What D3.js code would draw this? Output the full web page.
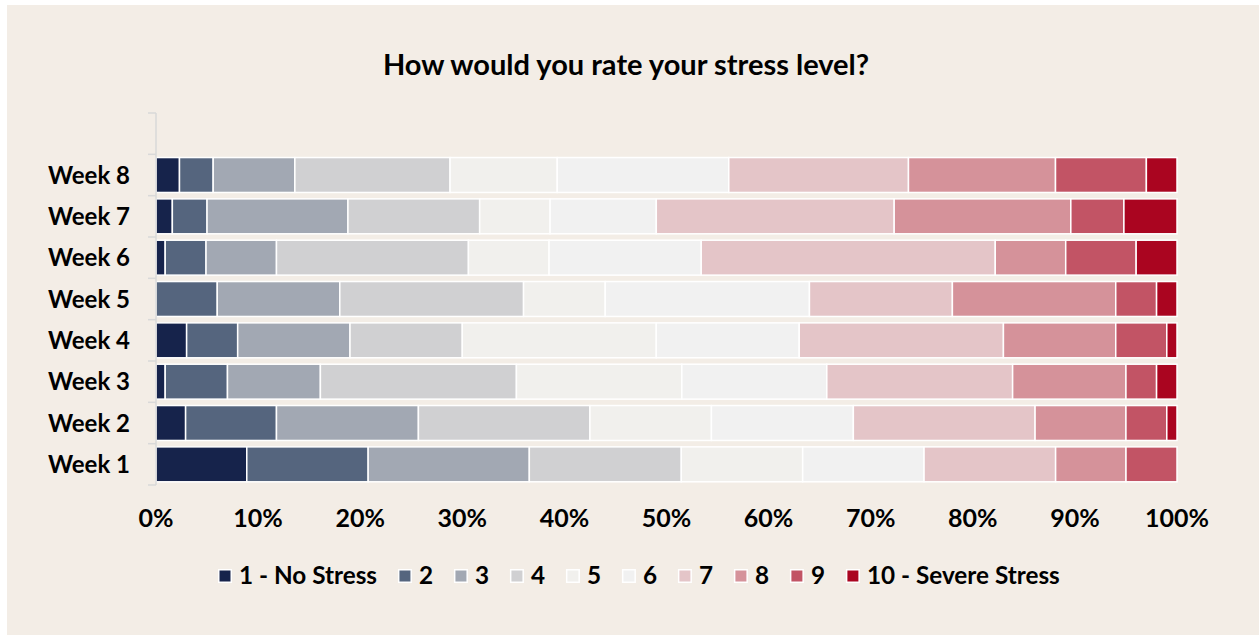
<!DOCTYPE html>
<html>
<head>
<meta charset="utf-8">
<script src="https://cdn.jsdelivr.net/npm/d3@7"></script>
<style>
  html, body { margin: 0; padding: 0; background: #ffffff; }
  svg { display: block; }
  text { font-family: Lato, "Open Sans", sans-serif; font-weight: 700; fill: #000; }
</style>
</head>
<body>
<svg id="chart" width="1259" height="635"></svg>
<script>
const title = "How would you rate your stress level?";
const weeks = ["Week 1", "Week 2", "Week 3", "Week 4", "Week 5", "Week 6", "Week 7", "Week 8"];
const ratings = ["1 - No Stress", "2", "3", "4", "5", "6", "7", "8", "9", "10 - Severe Stress"];
const colors = ["#16234b", "#55657e", "#a2a8b3", "#d0d0d2", "#f1f0ed", "#f1f1f1", "#e4c5c8", "#d5929a", "#c25465", "#aa0520"];
const tickValues = [0, 0.1, 0.2, 0.3, 0.4, 0.5, 0.6, 0.7, 0.8, 0.9, 1.0];

// share of responses (%) per rating 1..10
const week1 = [8.9, 11.9, 15.8, 14.9, 11.9, 11.9, 12.9, 6.9, 5.0, 0.0];
const week2 = [2.9, 8.9, 13.9, 16.8, 11.9, 13.9, 17.8, 8.9, 4.0, 1.0];
const week3 = [0.9, 6.1, 9.1, 19.2, 16.2, 14.2, 18.2, 11.1, 3.0, 2.0];
const week4 = [3, 5, 11, 11, 19, 14, 20, 11, 5, 1];
const week5 = [0, 6, 12, 18, 8, 20, 14, 16, 4, 2];
const week6 = [0.9, 4.0, 6.9, 18.8, 7.9, 14.9, 28.8, 6.9, 6.9, 4.0];
const week7 = [1.6, 3.4, 13.8, 12.9, 6.9, 10.4, 23.3, 17.3, 5.2, 5.2];
const week8 = [2.3, 3.3, 8.0, 15.2, 10.5, 16.8, 17.6, 14.4, 8.9, 3.0];
const seriesByWeek = [week1, week2, week3, week4, week5, week6, week7, week8];

const svg = d3.select("#chart");
svg.append("rect").attr("x", 7).attr("y", 5).attr("width", 1252).attr("height", 630).attr("fill", "#f3ede6");

const margin = { left: 156, right: 1177, top: 113, bottom: 485 };
const x = d3.scaleLinear().domain([0, 1]).range([margin.left, margin.right]);
const pad = 0.155;
const yDomain = weeks.concat([" "]);
const y = d3.scaleBand().domain(yDomain).range([margin.bottom, margin.top]).paddingInner(pad).paddingOuter(pad / 2);

// title
svg.append("text").attr("x", 626).attr("y", 75).attr("text-anchor", "middle")
  .style("font-size", "29px").text(title);

// stacked data
const rows = weeks.map((w, i) => {
  const vals = seriesByWeek[i];
  const total = d3.sum(vals);
  let acc = 0;
  return vals.map((v, k) => {
    const s = { week: w, k, x0: acc / total, x1: (acc + v) / total };
    acc += v;
    return s;
  });
});

const gBars = svg.append("g");
rows.forEach(segs => {
  gBars.selectAll(null).data(segs.filter(s => s.x1 > s.x0)).enter().append("rect")
    .attr("x", s => x(s.x0))
    .attr("y", s => y(s.week))
    .attr("width", s => x(s.x1) - x(s.x0))
    .attr("height", y.bandwidth())
    .attr("fill", s => colors[s.k])
    .attr("stroke", "#ffffff")
    .attr("stroke-width", 1.5);
});

// y axis: line with ticks at category boundaries
const gy = svg.append("g");
gy.append("line").attr("x1", margin.left).attr("x2", margin.left)
  .attr("y1", margin.top).attr("y2", margin.bottom)
  .attr("stroke", "#d9d9d9").attr("stroke-width", 1.5);
const edges = yDomain.map(d => y(d) - y.step() * pad / 2).concat([margin.bottom]);
gy.selectAll(".tk").data(edges).enter().append("line")
  .attr("x1", margin.left - 8).attr("x2", margin.left)
  .attr("y1", d => d).attr("y2", d => d)
  .attr("stroke", "#d9d9d9").attr("stroke-width", 1.5);
gy.selectAll(".lbl").data(weeks).enter().append("text")
  .attr("x", 130).attr("y", d => y(d) + y.bandwidth() / 2 + 8.5)
  .attr("text-anchor", "end").style("font-size", "24px").text(d => d);

// x axis labels
const gx = svg.append("g").attr("transform", `translate(0,${527})`);
gx.selectAll("text").data(tickValues).enter().append("text")
  .attr("x", d => x(d)).attr("y", 0).attr("text-anchor", "middle")
  .style("font-size", "25px").text(d => d3.format(".0%")(d));

// legend
const gl = svg.append("g");
let lx = 218;
ratings.forEach((r, k) => {
  gl.append("rect").attr("x", lx + 0.75).attr("y", 569.75).attr("width", 12.5).attr("height", 12.5)
    .attr("fill", colors[k]).attr("stroke", "#ffffff").attr("stroke-width", 1.5);
  const t = gl.append("text").attr("x", lx + 21).attr("y", 583.5).style("font-size", "24.3px").text(r);
  const w = t.node().getComputedTextLength();
  lx = lx + 21 + w + 20.9;
});
</script>
</body>
</html>
